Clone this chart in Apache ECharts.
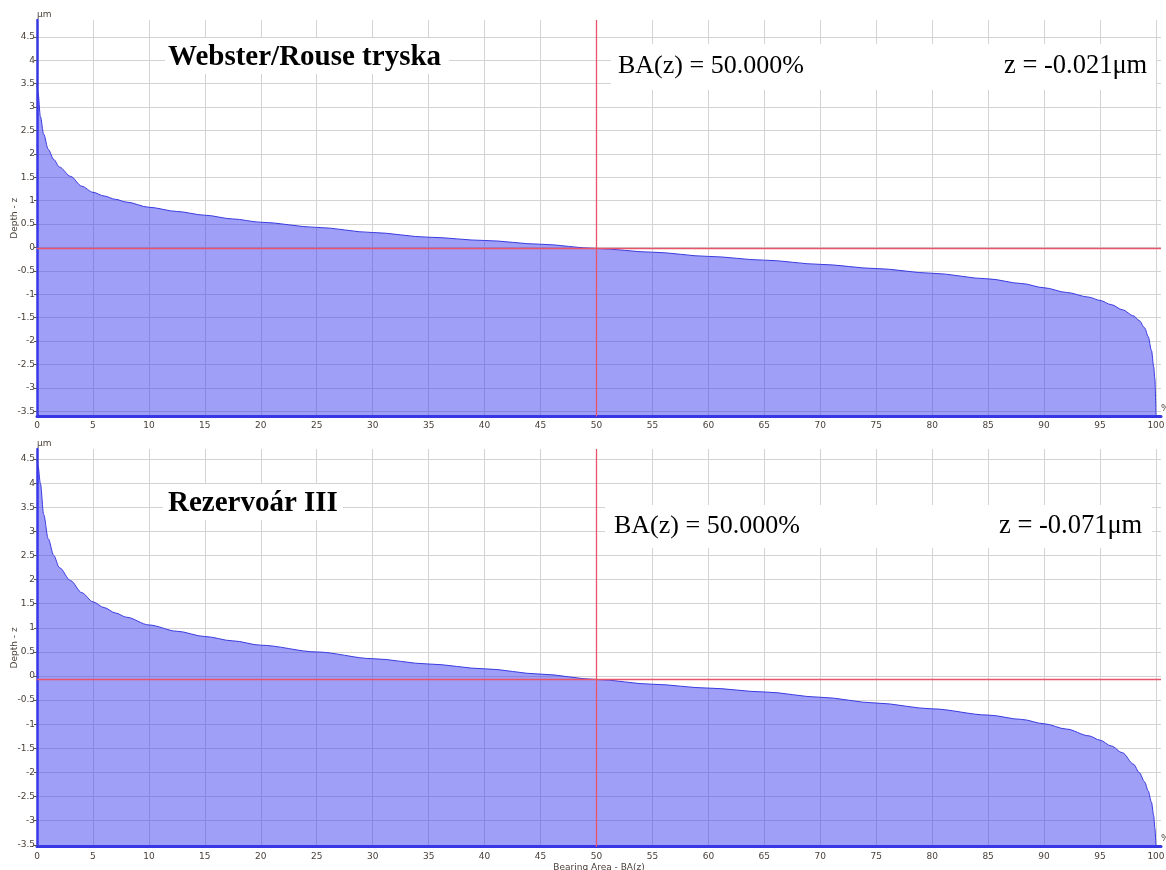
<!DOCTYPE html>
<html>
<head>
<meta charset="utf-8">
<title>Bearing Area Curves</title>
<script src="https://cdn.jsdelivr.net/npm/echarts@6/dist/echarts.min.js"></script>
<style>
  html, body { margin: 0; padding: 0; background: #ffffff; }
  #chart { width: 1166px; height: 870px; }
</style>
</head>
<body>
<div id="chart"></div>
<script>
// Bearing area (%) sample positions, shared by both curves
const baPct = [0, 0.1, 0.3, 0.6, 1, 1.5, 2, 3, 4, 5, 6, 7, 8, 10, 12.5, 15, 17.5, 20, 25, 30,
  35, 40, 45, 50, 55, 60, 65, 70, 75, 80, 85, 88, 90, 92, 94, 95, 96, 97, 98, 98.5,
  99, 99.3, 99.6, 99.8, 99.9, 100];

// Depth z (µm) for "Webster/Rouse tryska"
const zWebster = [3.5, 3.3, 2.8, 2.42, 2.1, 1.88, 1.72, 1.52, 1.31, 1.18, 1.1, 1.03, 0.97, 0.86, 0.77, 0.69, 0.61, 0.54, 0.43, 0.32,
  0.22, 0.15, 0.07, -0.021, -0.1, -0.19, -0.27, -0.36, -0.45, -0.55, -0.67, -0.77, -0.86, -0.96, -1.06, -1.13, -1.22, -1.33, -1.46, -1.56,
  -1.72, -1.9, -2.2, -2.55, -2.8, -3.6];

// Depth z (µm) for "Rezervoár III"
const zRezervoar = [4.5, 4.35, 4.0, 3.35, 2.85, 2.5, 2.25, 1.98, 1.73, 1.54, 1.42, 1.31, 1.22, 1.06, 0.93, 0.82, 0.73, 0.64, 0.5, 0.36,
  0.25, 0.15, 0.04, -0.071, -0.17, -0.25, -0.33, -0.44, -0.56, -0.68, -0.81, -0.9, -0.99, -1.1, -1.24, -1.33, -1.45, -1.59, -1.83, -2.0,
  -2.2, -2.38, -2.62, -2.9, -3.15, -3.54];

// Tick values
const xTicks = [0, 5, 10, 15, 20, 25, 30, 35, 40, 45, 50, 55, 60, 65, 70, 75, 80, 85, 90, 95, 100];
const yTicks = [-3.5, -3, -2.5, -2, -1.5, -1, -0.5, 0, 0.5, 1, 1.5, 2, 2.5, 3, 3.5, 4, 4.5];

// Cursor readouts
const cursorBA = 50;
const cursorZ = [-0.021, -0.071];
const panelTitles = ['Webster/Rouse tryska', 'Rezervoár III'];
const baTexts = ['BA(z) = 50.000%', 'BA(z) = 50.000%'];
const zTexts = ['z = -0.021μm', 'z = -0.071μm'];

const series1 = baPct.map((x, i) => [x, zWebster[i]]);
const series2 = baPct.map((x, i) => [x, zRezervoar[i]]);

const labelFont = 'DejaVu Sans';
const labelColor = '#4a4038';
const gridColor = '#d3d3d3';
const axisBlue = '#3636e2';
const cursorRed = '#e8546a';

const panels = [
  { top: 20, height: 396.5, yMin: -3.61, yMax: 4.86 },
  { top: 449, height: 397.7, yMin: -3.54, yMax: 4.71 }
];

function xAxisFor(i) {
  return {
    gridIndex: i, type: 'value', min: 0, max: 100.45,
    name: i === 1 ? 'Bearing Area - BA(z)' : '',
    nameLocation: 'middle', nameGap: 16,
    nameTextStyle: { fontSize: 9, color: labelColor, fontFamily: labelFont },
    axisLine: { show: true, onZero: false, lineStyle: { color: axisBlue, width: 3 } },
    axisTick: { show: false, customValues: xTicks },
    axisLabel: { customValues: xTicks, fontSize: 9, color: labelColor, fontFamily: labelFont, margin: 5 },
    splitLine: { show: true, lineStyle: { color: gridColor, width: 1 } }
  };
}

function yAxisFor(i) {
  return {
    gridIndex: i, type: 'value', min: panels[i].yMin, max: panels[i].yMax,
    name: 'Depth - z', nameLocation: 'middle', nameGap: 18, nameRotate: 90, nameMoveOverlap: false,
    nameTextStyle: { fontSize: 9, color: labelColor, fontFamily: labelFont },
    axisLine: { show: true, onZero: false, lineStyle: { color: axisBlue, width: 2.5 } },
    axisTick: { show: true, length: 3, customValues: yTicks, lineStyle: { color: '#555555', width: 1 } },
    axisLabel: { customValues: yTicks, fontSize: 9, color: labelColor, fontFamily: labelFont, margin: 2 },
    splitLine: { show: true, lineStyle: { color: gridColor, width: 1 } }
  };
}

function curveSeries(i, data) {
  return {
    type: 'line', xAxisIndex: i, yAxisIndex: i, data: data,
    showSymbol: false, smooth: 0.3, smoothMonotone: 'x',
    lineStyle: { color: '#3a3ae0', width: 1 },
    areaStyle: { color: 'rgba(60,60,240,0.49)', opacity: 1, origin: 'start' },
    silent: true,
    markLine: {
      silent: true, symbol: 'none', label: { show: false },
      lineStyle: { color: cursorRed, width: 1.3, type: 'solid', opacity: 1 },
      data: [
        { xAxis: cursorBA },
        { yAxis: cursorZ[i] }
      ]
    }
  };
}

// Text blocks with white backing boxes above the plots
function overlay(i) {
  const tBox = i === 0 ? { x: 165, y: 38, w: 284, h: 36 } : { x: 163, y: 484, w: 180, h: 36 };
  const tY = i === 0 ? 58 : 504;
  const bBox = i === 0 ? { x: 611, y: 44, w: 545, h: 46 } : { x: 605, y: 505, w: 547, h: 43 };
  const bY = i === 0 ? 66 : 526;
  const baX = i === 0 ? 618 : 614;
  const zX = i === 0 ? 1004 : 999;
  return [
    { type: 'rect', shape: { x: tBox.x, y: tBox.y, width: tBox.w, height: tBox.h }, style: { fill: '#ffffff' }, z: 50, silent: true },
    { type: 'rect', shape: { x: bBox.x, y: bBox.y, width: bBox.w, height: bBox.h }, style: { fill: '#ffffff' }, z: 50, silent: true },
    { type: 'text', x: 168, y: tY, z: 60, silent: true,
      style: { text: panelTitles[i], font: 'bold 29px "Liberation Serif"', fill: '#000000', verticalAlign: 'middle' } },
    { type: 'text', x: baX, y: bY, z: 60, silent: true,
      style: { text: baTexts[i], font: '26px "Liberation Serif"', fill: '#000000', verticalAlign: 'middle' } },
    { type: 'text', x: zX, y: bY, z: 60, silent: true,
      style: { text: zTexts[i], font: '26.5px "Liberation Serif"', fill: '#000000', verticalAlign: 'middle' } },
    { type: 'text', x: 37, y: i === 0 ? 15 : 444, z: 60, silent: true,
      style: { text: 'µm', font: '9px "DejaVu Sans"', fill: labelColor, verticalAlign: 'middle' } },
    { type: 'text', x: 1161, y: i === 0 ? 409 : 839, z: 60, silent: true,
      style: { text: '%', font: '9px "DejaVu Sans"', fill: labelColor, verticalAlign: 'middle' } }
  ];
}

const chart = echarts.init(document.getElementById('chart'), null, { renderer: 'canvas' });
chart.setOption({
  backgroundColor: '#ffffff',
  animation: false,
  grid: panels.map(p => ({ left: 37, right: 5, top: p.top, height: p.height, containLabel: false, outerBoundsMode: 'none' })),
  xAxis: [xAxisFor(0), xAxisFor(1)],
  yAxis: [yAxisFor(0), yAxisFor(1)],
  series: [curveSeries(0, series1), curveSeries(1, series2)],
  graphic: overlay(0).concat(overlay(1))
});
</script>
</body>
</html>
